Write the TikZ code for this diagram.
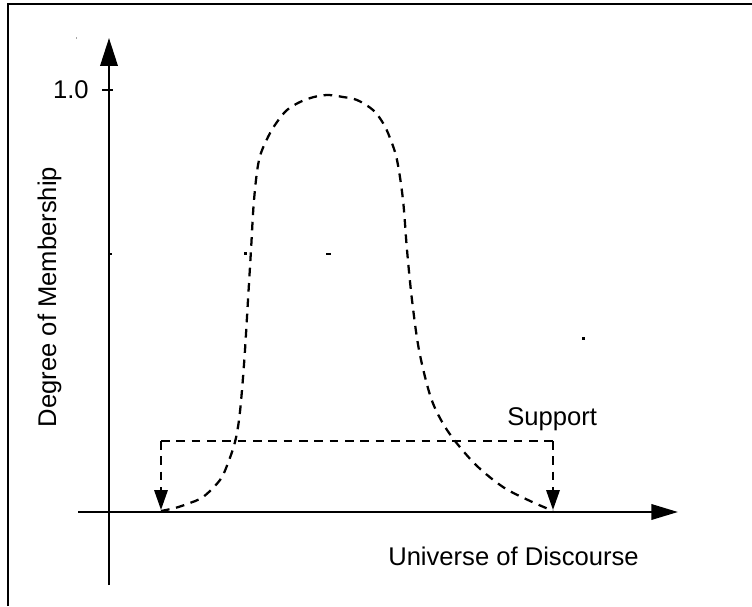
\documentclass[tikz,border=0pt]{standalone}
\usepackage{fontspec}
\setmainfont{Liberation Sans}
\usetikzlibrary{arrows.meta}
\begin{document}
\begin{tikzpicture}[x=0.75pt,y=-0.75pt,
  frameline/.style={line width=1.7pt},
  axis/.style={line width=1.9pt},
  bigtip/.style={-{Triangle[length=21pt,width=13pt]}},
  dashline/.style={line width=1.7pt, dash pattern=on 6.5pt off 5pt},
  smalltip/.style={-{Triangle[length=15pt,width=10pt]}},
  lbl/.style={font=\fontsize{19.2}{22}\selectfont, inner sep=0pt},
  speck/.style={fill=black, draw=none}]
\useasboundingbox (0,0) rectangle (752,606);
% frame (only top and left edges are visible)
\draw[frameline] (8,606) -- (8,4) -- (752,4);
% axes
\coordinate (yb) at (109,585);
\coordinate (yt) at (109,38);
\coordinate (xl) at (78,512);
\coordinate (xr) at (678,512);
\draw[axis,bigtip] (yb) -- (yt);
\draw[axis,-{Triangle[length=20pt,width=11.5pt]}] (xl) -- (xr);
% tick at 1.0
\coordinate (t1) at (102,90);
\coordinate (t2) at (113,90);
\draw[line width=1.4pt] (t1) -- (t2);
\node[lbl, anchor=base east] (one) at (89,99) {1.0};
% labels
\node[lbl, anchor=base west] (uod) at (388,565) {Universe of Discourse};
\node[lbl, anchor=base, rotate=90] (dom) at (56,297) {Degree of Membership};
\node[lbl, anchor=base west] (sup) at (507,425) {Support};
% membership curve
\draw[dashline] plot[smooth, tension=0.55] coordinates {
 (161,511) (175,508) (187,504) (203,497) (220,480) (228,463) (235,442)
 (239,420) (242,390) (245,350) (248,300) (251,250) (254,200) (259,160)
 (268,137) (277,122) (287,110) (300,102) (314,97) (328,95) (343,97)
 (357,100) (373,110) (383,123) (390,138) (397,160) (403,200) (407,250)
 (412,300) (419,350) (430,395) (441,420) (455,441) (477,466) (503,487)
 (528,500) (553,511)};
% support bracket
\coordinate (sl) at (161,510);
\coordinate (slt) at (161,441);
\coordinate (srt) at (553,441);
\coordinate (sr) at (553,510);
\draw[dashline] (slt) -- (srt);
\draw[dashline,smalltip] (slt) -- (sl);
\draw[dashline,smalltip] (srt) -- (sr);
% small specks
\fill[speck] (244,252) rectangle (246.5,254.5);
\fill[speck] (326,252.5) rectangle (330.5,254.5);
\fill[speck] (582,337) rectangle (585,339.5);
\fill[speck] (110,253) rectangle (112,255);
\fill[black!35] (75.5,37) rectangle (77,39);
\end{tikzpicture}
\end{document}
